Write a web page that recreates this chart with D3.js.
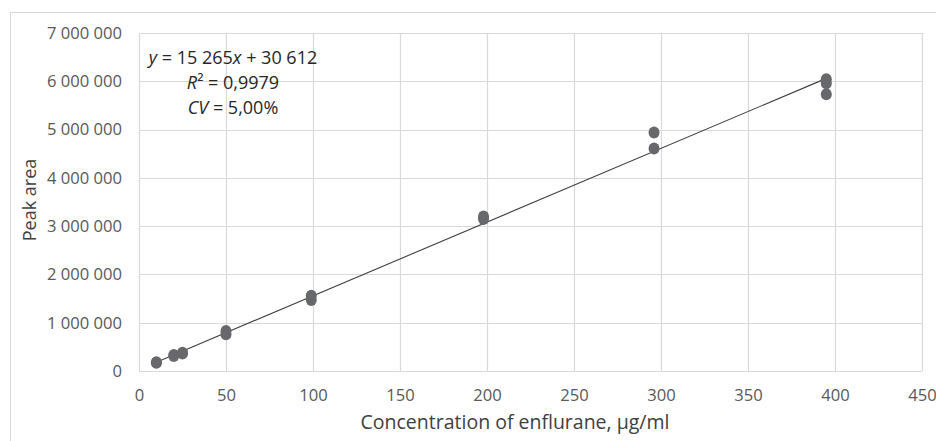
<!DOCTYPE html>
<html>
<head>
<meta charset="utf-8">
<script src="https://cdn.jsdelivr.net/npm/d3@7"></script>
<style>
  html, body { margin: 0; padding: 0; background: #fff; }
  svg { display: block; font-family: "Open Sans", sans-serif; }
</style>
</head>
<body>
<svg id="chart" width="936" height="441"></svg>
<script>
// ---- data ----
const concentrations = [10, 10, 20, 20, 25, 25, 50, 50, 99, 99, 198, 198, 296, 296, 395, 395, 395];
const peakAreas = [180000, 170000, 330000, 310000, 380000, 360000, 830000, 760000, 1560000, 1470000, 3200000, 3150000, 4940000, 4610000, 6040000, 5960000, 5730000];
const xTicks = [0, 50, 100, 150, 200, 250, 300, 350, 400, 450];
const yTicks = [0, 1000000, 2000000, 3000000, 4000000, 5000000, 6000000, 7000000];
const slope = 15265;
const intercept = 30612;
const xTitle = "Concentration of enflurane, µg/ml";
const yTitle = "Peak area";

// ---- layout ----
const svg = d3.select("#chart");
const pL = 139, pR = 922, pT = 33, pB = 371;
const x = d3.scaleLinear().domain([0, 450]).range([pL, pR]);
const y = d3.scaleLinear().domain([0, 7000000]).range([pB, pT]);
const fmt = v => d3.format(",")(v).replace(/,/g, " ");

// outer chart border
svg.append("path")
  .attr("d", `M10.5,441 V12.5 H936`)
  .attr("fill", "none").attr("stroke", "#d9d9d9").attr("stroke-width", 1);

// gridlines
const grid = svg.append("g");
grid.selectAll("line.v").data(xTicks).join("line")
  .attr("x1", d => Math.round(x(d)) + 0.5).attr("x2", d => Math.round(x(d)) + 0.5)
  .attr("y1", pT).attr("y2", pB)
  .attr("stroke", "#d9d9d9").attr("stroke-width", 1.2);
grid.selectAll("line.h").data(yTicks).join("line")
  .attr("x1", pL).attr("x2", pR)
  .attr("y1", d => Math.round(y(d)) + 0.5).attr("y2", d => Math.round(y(d)) + 0.5)
  .attr("stroke", "#d9d9d9").attr("stroke-width", 1.2);

// axes (labels only)
const xAxis = svg.append("g").attr("transform", `translate(0,${pB})`)
  .call(d3.axisBottom(x).tickValues(xTicks).tickSize(0).tickPadding(18).tickFormat(d3.format("d")));
const yAxis = svg.append("g").attr("transform", `translate(${pL},0)`)
  .call(d3.axisLeft(y).tickValues(yTicks).tickSize(0).tickPadding(17).tickFormat(fmt));
[xAxis, yAxis].forEach(a => {
  a.select(".domain").remove();
  a.selectAll("text").attr("fill", "#595959").style("font-size", "16.6px").style("font-family", "'Open Sans', sans-serif");
});

// trendline
const xMin = d3.min(concentrations), xMax = d3.max(concentrations);
svg.append("line")
  .attr("x1", x(xMin)).attr("y1", y(slope * xMin + intercept))
  .attr("x2", x(xMax)).attr("y2", y(slope * xMax + intercept))
  .attr("stroke", "#404040").attr("stroke-width", 1.1);

// points
svg.append("g").selectAll("ellipse")
  .data(concentrations.map((c, i) => [c, peakAreas[i]]))
  .join("ellipse")
  .attr("cx", d => x(d[0])).attr("cy", d => y(d[1]))
  .attr("rx", 5.5).attr("ry", 6)
  .attr("fill", "#67686b");

// axis titles
svg.append("text").attr("x", 515).attr("y", 429)
  .attr("text-anchor", "middle").attr("fill", "#404040")
  .style("font-size", "19.5px").text(xTitle);
svg.append("text")
  .attr("transform", `translate(36,${(pT + pB) / 2 - 2}) rotate(-90)`)
  .attr("text-anchor", "middle").attr("fill", "#404040")
  .style("font-size", "18px").text(yTitle);

// equation box
const eq = svg.append("g").attr("fill", "#262626").style("font-size", "18px");
const cx = 233;
const t1 = eq.append("text").attr("x", cx).attr("y", 64).attr("text-anchor", "middle");
t1.append("tspan").attr("font-style", "italic").text("y");
t1.append("tspan").text(" = 15 265");
t1.append("tspan").attr("font-style", "italic").text("x");
t1.append("tspan").text(" + 30 612");
const t2 = eq.append("text").attr("x", cx).attr("y", 89).attr("text-anchor", "middle");
t2.append("tspan").attr("font-style", "italic").text("R");
t2.append("tspan").text("² = 0,9979");
const t3 = eq.append("text").attr("x", cx).attr("y", 114).attr("text-anchor", "middle");
t3.append("tspan").attr("font-style", "italic").text("CV");
t3.append("tspan").text(" = 5,00%");
</script>
</body>
</html>
